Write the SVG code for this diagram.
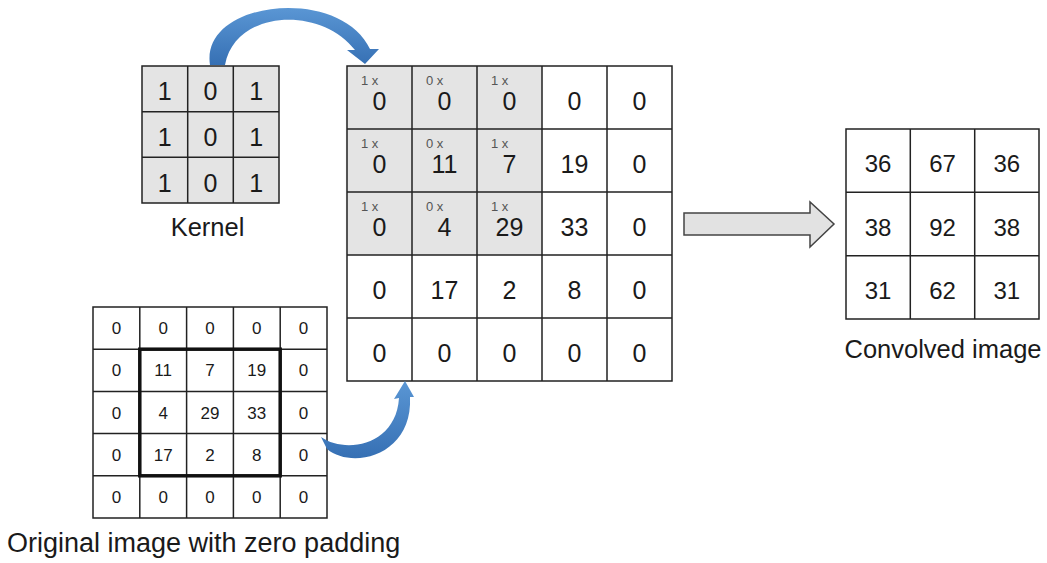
<svg xmlns="http://www.w3.org/2000/svg" width="1047" height="563" viewBox="0 0 1047 563">
<defs>
<style>
.g{fill:none;stroke:#222;stroke-width:1.5}
.t{font-family:"Liberation Sans",Arial,sans-serif;fill:#1a1a1a;text-anchor:middle}
.k{font-size:25px}
.m{font-size:25px}
.s{font-size:17px}
.o{font-size:24px}
.lbl{font-family:"Liberation Sans",Arial,sans-serif;font-size:13px;fill:#555}
.cap{font-family:"Liberation Sans",Arial,sans-serif;font-size:25.5px;fill:#1a1a1a}
</style>
<linearGradient id="blue" x1="0" y1="0" x2="0" y2="1">
<stop offset="0" stop-color="#5a96d4"/>
<stop offset="1" stop-color="#3670b4"/>
</linearGradient>
<filter id="sh" x="-10%" y="-10%" width="120%" height="120%">
<feGaussianBlur stdDeviation="2"/>
</filter>
</defs>
<rect width="1047" height="563" fill="#fff"/>

<g id="kernel">
<rect x="142" y="66" width="137" height="137" fill="#e4e4e4"/>
<path class="g" d="M142,66H279V203H142Z M187.7,66V203 M233.3,66V203 M142,111.7H279 M142,157.3H279"/>
<g class="t k">
<text x="164.8" y="100">1</text><text x="210.5" y="100">0</text><text x="256.2" y="100">1</text>
<text x="164.8" y="146">1</text><text x="210.5" y="146">0</text><text x="256.2" y="146">1</text>
<text x="164.8" y="191.5">1</text><text x="210.5" y="191.5">0</text><text x="256.2" y="191.5">1</text>
</g>
<text class="cap" x="207.5" y="236" text-anchor="middle">Kernel</text>
</g>

<g id="conv-input">
<rect x="349" y="68" width="195" height="190" fill="#9a9a9a" filter="url(#sh)"/>
<rect x="347" y="66" width="325" height="315" fill="#fff"/>
<rect x="347" y="66" width="195" height="189" fill="#e4e4e4"/>
<path class="g" d="M347,66H672V381H347Z M412,66V381 M477,66V381 M542,66V381 M607,66V381 M347,129H672 M347,192H672 M347,255H672 M347,318H672"/>
<g class="lbl">
<text x="361" y="85">1 x</text><text x="426" y="85">0 x</text><text x="491" y="85">1 x</text>
<text x="361" y="148">1 x</text><text x="426" y="148">0 x</text><text x="491" y="148">1 x</text>
<text x="361" y="211">1 x</text><text x="426" y="211">0 x</text><text x="491" y="211">1 x</text>
</g>
<g class="t m">
<text x="379.5" y="110">0</text><text x="444.5" y="110">0</text><text x="509.5" y="110">0</text><text x="574.5" y="110">0</text><text x="639.5" y="110">0</text>
<text x="379.5" y="173">0</text><text x="444.5" y="173">11</text><text x="509.5" y="173">7</text><text x="574.5" y="173">19</text><text x="639.5" y="173">0</text>
<text x="379.5" y="236">0</text><text x="444.5" y="236">4</text><text x="509.5" y="236">29</text><text x="574.5" y="236">33</text><text x="639.5" y="236">0</text>
<text x="379.5" y="299">0</text><text x="444.5" y="299">17</text><text x="509.5" y="299">2</text><text x="574.5" y="299">8</text><text x="639.5" y="299">0</text>
<text x="379.5" y="362">0</text><text x="444.5" y="362">0</text><text x="509.5" y="362">0</text><text x="574.5" y="362">0</text><text x="639.5" y="362">0</text>
</g>
</g>

<g id="padded-input">
<path class="g" d="M93,307H327V518H93Z M139.8,307V518 M186.6,307V518 M233.4,307V518 M280.2,307V518 M93,349.2H327 M93,391.4H327 M93,433.6H327 M93,475.8H327"/>
<rect x="139.8" y="349.2" width="140.4" height="126.6" fill="none" stroke="#111" stroke-width="3.5"/>
<g class="t s">
<text x="116.4" y="334">0</text><text x="163.2" y="334">0</text><text x="210" y="334">0</text><text x="256.8" y="334">0</text><text x="303.6" y="334">0</text>
<text x="116.4" y="376">0</text><text x="163.2" y="376">11</text><text x="210" y="376">7</text><text x="256.8" y="376">19</text><text x="303.6" y="376">0</text>
<text x="116.4" y="418.5">0</text><text x="163.2" y="418.5">4</text><text x="210" y="418.5">29</text><text x="256.8" y="418.5">33</text><text x="303.6" y="418.5">0</text>
<text x="116.4" y="460.5">0</text><text x="163.2" y="460.5">17</text><text x="210" y="460.5">2</text><text x="256.8" y="460.5">8</text><text x="303.6" y="460.5">0</text>
<text x="116.4" y="503">0</text><text x="163.2" y="503">0</text><text x="210" y="503">0</text><text x="256.8" y="503">0</text><text x="303.6" y="503">0</text>
</g>
<text class="cap" x="7" y="552" style="font-size:27px">Original image with zero padding</text>
</g>

<g id="output">
<path class="g" d="M846,129H1039V319H846Z M910.3,129V319 M974.7,129V319 M846,192.3H1039 M846,255.7H1039"/>
<g class="t o">
<text x="878" y="172">36</text><text x="942.5" y="172">67</text><text x="1006.8" y="172">36</text>
<text x="878" y="235.5">38</text><text x="942.5" y="235.5">92</text><text x="1006.8" y="235.5">38</text>
<text x="878" y="298.5">31</text><text x="942.5" y="298.5">62</text><text x="1006.8" y="298.5">31</text>
</g>
<text class="cap" x="943" y="358" text-anchor="middle">Convolved image</text>
</g>

<g id="connectors">
<path d="M210,65 C200,0 340,-15 370,49 L379,49 L365,64 L347,50 L355,50 C320,5 235,10 225,65 Z" fill="url(#blue)"/>
<path d="M321,437 C345,454 396,446 399,398 L394,399 L405,381 L414,397 L410,397 C413,456 352,470 327,449 Z" fill="url(#blue)"/>
<polygon points="684,213 810,213 810,202 834,224 810,247 810,235 684,235" fill="#e2e2e2" stroke="#444" stroke-width="1.5"/>
</g>
</svg>
